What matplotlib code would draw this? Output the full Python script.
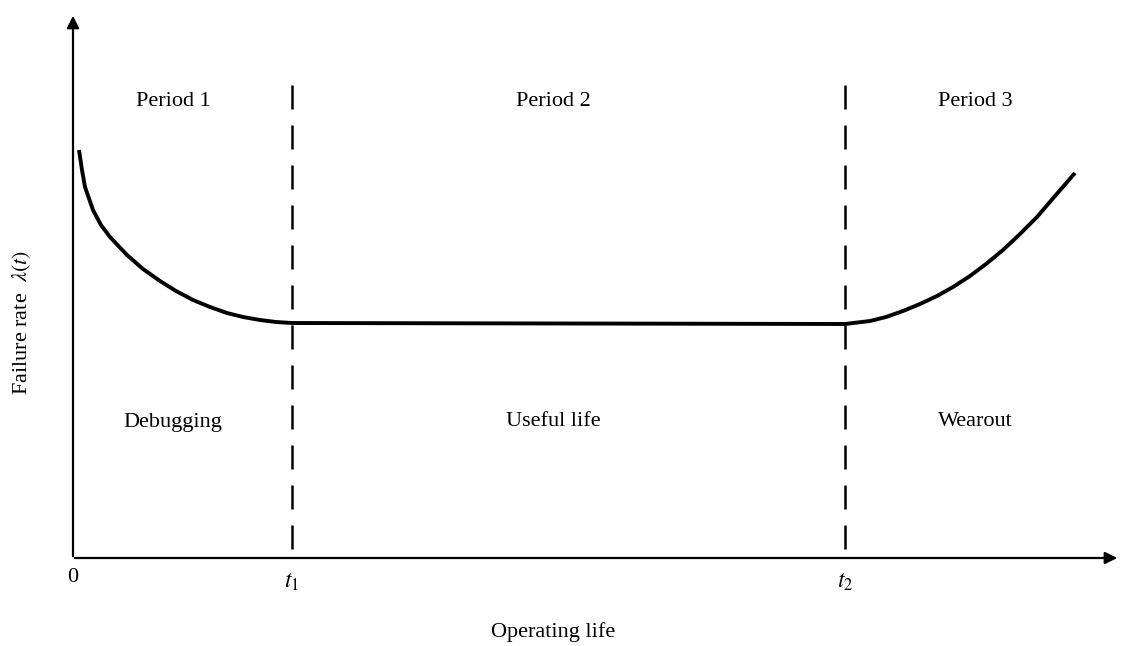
import matplotlib.pyplot as plt

plt.rcParams['font.family'] = ['Liberation Serif', 'DejaVu Serif']
plt.rcParams['mathtext.fontset'] = 'stix'

# bathtub curve (x: operating life, y: failure rate)
t_debug = [0.06, 0.09, 0.12, 0.20, 0.28, 0.37, 0.54, 0.70, 0.87, 1.03,
           1.20, 1.37, 1.54, 1.70, 1.87, 2.03, 2.19]
rate_debug = [4.08, 3.88, 3.71, 3.48, 3.33, 3.21, 3.03, 2.89, 2.77, 2.67,
              2.58, 2.51, 2.45, 2.41, 2.38, 2.36, 2.35]
t_useful = [2.19, 7.72]
rate_useful = [2.35, 2.34]
t_wear = [7.72, 7.97, 8.13, 8.30, 8.47, 8.64, 8.80, 8.97, 9.13, 9.30,
          9.47, 9.64, 9.82, 10.02]
rate_wear = [2.34, 2.37, 2.41, 2.47, 2.54, 2.62, 2.71, 2.82, 2.94, 3.08,
             3.24, 3.41, 3.62, 3.85]

t1, t2 = 2.19, 7.72
periods = ['Period 1', 'Period 2', 'Period 3']
phases = ['Debugging', 'Useful life', 'Wearout']

fig = plt.figure(figsize=(11.22, 6.46), dpi=100)
ax = fig.add_axes([0, 0, 1, 1])
ax.set_xlim(-0.73, 10.49)
ax.set_ylim(-0.88, 5.58)
ax.axis('off')

# axes with arrows
ax.annotate('', xy=(0, 5.45), xytext=(0, -0.01),
            arrowprops=dict(arrowstyle='-|>', lw=1.6, color='black', mutation_scale=18))
ax.annotate('', xy=(10.47, 0), xytext=(-0.01, 0),
            arrowprops=dict(arrowstyle='-|>', lw=1.6, color='black', mutation_scale=18))

# curve
t_all = t_debug + t_useful[1:] + t_wear[1:]
r_all = rate_debug + rate_useful[1:] + rate_wear[1:]
ax.plot(t_all, r_all, color='black', lw=2.8, solid_capstyle='butt',
        solid_joinstyle='round')

# period boundaries (drawn top-down so the dash pattern starts at the top)
for tb in (t1, t2):
    ln, = ax.plot([tb, tb], [4.73, 0], color='black', lw=1.8)
    ln.set_dashes((9.6, 6.4))

mids = [1.0, 4.80, 9.02]
for xm, p, ph in zip(mids, periods, phases):
    ax.text(xm, 4.56, p, ha='center', va='center', fontsize=16)
    ax.text(xm, 1.36, ph, ha='center', va='center', fontsize=16)

ax.text(0, -0.2, '0', ha='center', va='center', fontsize=16)
ax.text(t1, -0.24, '$t_1$', ha='center', va='center', fontsize=17)
ax.text(t2, -0.24, '$t_2$', ha='center', va='center', fontsize=17)
ax.text(4.80, -0.74, 'Operating life', ha='center', va='center', fontsize=16)
ax.text(-0.51, 2.36, r'Failure rate  $\lambda(t)$', ha='center', va='center',
        rotation=90, fontsize=16)

fig.savefig('out.png', dpi=100)
